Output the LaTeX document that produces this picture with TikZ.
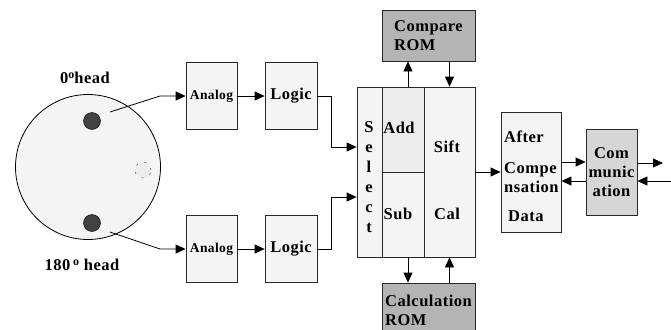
\documentclass[tikz,border=0pt]{standalone}
\usepackage{fontspec}
\setmainfont[LetterSpace=3]{Liberation Serif}
\usepackage{tikz}
\usetikzlibrary{arrows.meta, positioning, calc}
\definecolor{boxfill}{RGB}{244,244,244}
\definecolor{addfill}{RGB}{236,236,236}
\definecolor{romfill}{RGB}{180,180,180}
\definecolor{commfill}{RGB}{214,214,214}
\definecolor{dotfill}{RGB}{66,66,66}
\definecolor{edge}{RGB}{40,40,40}
\newcommand{\bigtxt}{\fontsize{16.5}{19}\selectfont\bfseries}
\newcommand{\smalltxt}{\fontsize{13.5}{15}\selectfont\bfseries}
\newcommand{\dego}{\raisebox{5pt}{\fontsize{12}{12}\selectfont o}}
\tikzset{
  block/.style={rectangle, draw=edge, fill=boxfill, line width=0.8pt,
    inner sep=0pt, font=\bigtxt},
  rombox/.style={block, fill=romfill, align=left},
  label/.style={inner sep=0pt, font=\bigtxt},
  headdot/.style={circle, draw=black, fill=dotfill, minimum size=17pt, inner sep=0pt},
  arrow/.style={-{Triangle[length=10pt,width=9pt]}, line width=0.8pt},
  line/.style={line width=0.8pt}
}

\begin{document}
\begin{tikzpicture}[x=1pt, y=-1pt]
  \useasboundingbox (0,0) rectangle (671,329);
  \clip (0,0) rectangle (671,329);
  % ── Disk with the two heads ──
  \node[circle, draw=black, fill=boxfill, line width=0.8pt, minimum size=145pt,
    inner sep=0pt] (disk) at (88,167) {};
  \node[headdot] (dotA) at (92,121) {};
  \node[headdot] (dotB) at (92,223) {};
  \node[circle, fill=addfill, draw=edge, thin, dash pattern=on 2pt off 7pt,
    minimum size=16pt, inner sep=0pt] (mark) at (143,170) {};
  \node[label] (headA) at (85,78) {0\dego head};
  \node[label] (headB) at (82,265) {180\,\dego\ head};
  \coordinate (tapA) at (110,112);
  \coordinate (bendA) at (160,96);
  \coordinate (tapB) at (110,232);
  \coordinate (bendB) at (160,249);
  % ── Analog / Logic chains ──
  \node[block, minimum width=51pt, minimum height=67pt, font=\smalltxt] (analogA) at (211.5,96) {Analog};
  \node[block, minimum width=52pt, minimum height=67pt] (logicA) at (291,96) {Logic};
  \node[block, minimum width=51pt, minimum height=67pt, font=\smalltxt] (analogB) at (211.5,249) {Analog};
  \node[block, minimum width=52pt, minimum height=67pt] (logicB) at (291,249) {Logic};
  % ── Select / Add / Sub / Sift block ──
  \node[block, minimum width=25pt, minimum height=170pt] (selcol) at (369.5,172) {};
  \node[block, fill=addfill, minimum width=42pt, minimum height=85pt] (addbox) at (403,129.5) {};
  \node[block, minimum width=42pt, minimum height=85pt] (subbox) at (403,214.5) {};
  \node[block, minimum width=51pt, minimum height=170pt] (siftcol) at (449.5,172) {};
  \node[label, align=center, font=\fontsize{16.5}{20}\selectfont\bfseries] (seltxt) at (369,177)
    {S\\e\\l\\e\\c\\t};
  \node[label] (addtxt) at (399,128) {Add};
  \node[label] (subtxt) at (398,214) {Sub};
  \node[label] (sifttxt) at (447,147) {Sift};
  \node[label] (caltxt) at (447,214) {Cal};
  % ── ROMs ──
  \node[rombox, minimum width=93pt, minimum height=51pt] (cmprom) at (428.5,35.5) {Compare\\ROM};
  \node[rombox, minimum width=93pt, minimum height=55pt] (calcrom) at (428.5,310.5) {Calculation\\ROM};
  % ── Output side ──
  \node[block, minimum width=60pt, minimum height=120pt] (afterbox) at (531,172) {};
  \node[label, align=left, anchor=west] (aftertxt) at (504,176)
    {After\\[12pt]Compe\\nsation\\[10pt]\hspace{4pt}Data};
  \node[block, fill=commfill, minimum width=51pt, minimum height=86pt, align=center] (commbox) at (611.5,172)
    {Com\\munic\\ation};
  \coordinate (outR) at (663,163);
  \coordinate (inR) at (671,181);
  % ── Connectors ──
  \draw[arrow] (tapA) -- (bendA) -- (analogA.west);
  \draw[arrow] (tapB) -- (bendB) -- (analogB.west);
  \draw[arrow] (analogA) -- (logicA);
  \draw[arrow] (analogB) -- (logicB);
  \draw[arrow] (logicA.east) -- ++(14,0) |- ([yshift=25pt]selcol.west);
  \draw[arrow] (logicB.east) -- ++(14,0) |- ([yshift=-25pt]selcol.west);
  \draw[arrow] ([xshift=5pt]addbox.north) -- ([xshift=5pt]addbox.north |- cmprom.south);
  \draw[arrow] (siftcol.north |- cmprom.south) -- (siftcol.north);
  \draw[arrow] ([xshift=5pt]subbox.south) -- ([xshift=5pt]subbox.south |- calcrom.north);
  \draw[arrow] (siftcol.south |- calcrom.north) -- (siftcol.south);
  \draw[arrow] (siftcol.east) -- (afterbox.west);
  \draw[arrow] ([yshift=10pt]afterbox.east) -- ([yshift=10pt]commbox.west);
  \draw[arrow] ([yshift=-9pt]commbox.west) -- ([yshift=-9pt]afterbox.east);
  \draw[arrow] ([yshift=9pt]commbox.east) -- (outR);
  \draw[arrow] (inR) -- ([yshift=-9pt]commbox.east);
\end{tikzpicture}
\end{document}
